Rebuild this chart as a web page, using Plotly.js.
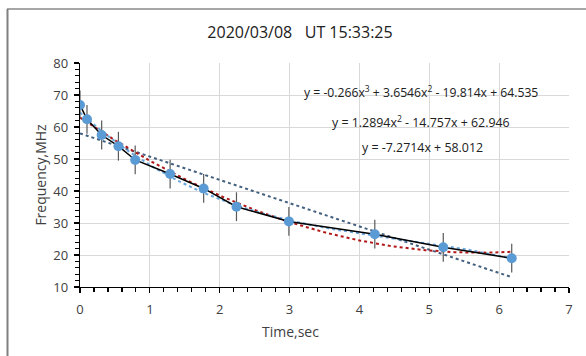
<!DOCTYPE html>
<html><head><meta charset="utf-8">
<script src="https://cdn.plot.ly/plotly-3.0.1.min.js"></script>
<style>html,body{margin:0;padding:0;background:#fff}#chart{width:586px;height:356px}</style>
</head><body><div id="chart"></div>
<script>
// Data
const timeSec = [0, 0.1, 0.31, 0.55, 0.79, 1.29, 1.77, 2.24, 2.99, 4.22, 5.2, 6.18];
const freqMHz = [66.9, 62.4, 57.5, 54.0, 49.7, 45.3, 40.8, 35.1, 30.5, 26.5, 22.4, 19.0];
const freqErr = [4.5, 4.5, 4.5, 4.5, 4.5, 4.5, 4.5, 4.5, 4.5, 4.5, 4.5, 4.5];
// Trendline coefficients as printed on the chart (highest power first)
const cubicCoef = [-0.266, 3.6546, -19.814, 64.535];
const quadCoef = [1.2894, -14.757, 62.946];
const linCoef = [-7.2714, 58.012];
const eqLabels = [
  "y = -0.266x<sup>3</sup> + 3.6546x<sup>2</sup> - 19.814x + 64.535",
  "y = 1.2894x<sup>2</sup> - 14.757x + 62.946",
  "y = -7.2714x + 58.012"
];
const titleText = "2020/03/08   UT 15:33:25";
const xTitle = "Time,sec";
const yTitle = "Frequency,MHz";

function poly(c, x){ return c.reduce((a,k)=>a*x+k, 0); }
const xs = [];
const n = 120, xmax = timeSec[timeSec.length-1];
for (let i=0;i<=n;i++) xs.push(xmax*i/n);

const FONT = "Open Sans, Liberation Sans, sans-serif";
const traces = [
  {x: xs, y: xs.map(x=>poly(linCoef,x)), mode:'lines', line:{color:'#44607f', width:2, dash:'dot'}, hoverinfo:'skip'},
  {x: xs, y: xs.map(x=>poly(quadCoef,x)), mode:'lines', line:{color:'#b01818', width:2, dash:'dot'}, hoverinfo:'skip'},
  {x: xs, y: xs.map(x=>poly(cubicCoef,x)), mode:'lines', line:{color:'#6aa6dc', width:2, dash:'dot'}, hoverinfo:'skip'},
  {x: timeSec, y: freqMHz, mode:'lines+markers',
   line:{color:'#000', width:1.5},
   marker:{color:'#5b9bd5', size:10},
   error_y:{type:'data', array:freqErr, visible:true, color:'#595959', thickness:1.2, width:0}}
];

const px = v => (v-80)/489;      // pixel x -> paper x
const py = v => (287-v)/224;     // pixel y -> paper y
const layout = {
  width:586, height:356,
  margin:{l:80, r:17, t:63, b:69},
  paper_bgcolor:'#fff', plot_bgcolor:'#fff',
  showlegend:false,
  font:{family:FONT, size:12, color:'#404040'},
  title:{text:titleText, font:{family:FONT, size:16, color:'#202020'}, x:300/586, xanchor:'center', y:1-32/356, yanchor:'middle'},
  xaxis:{range:[0,7], dtick:1, tick0:0, showgrid:true, gridcolor:'#d9d9d9', gridwidth:1,
    zeroline:false, showline:true, linecolor:'#000', linewidth:1.2,
    ticks:'outside', ticklen:5, tickcolor:'#000', tickwidth:1.2, ticklabelstandoff:5,
    minor:{dtick:0.2, ticks:'outside', ticklen:4, tickcolor:'#000', showgrid:false},
    tickfont:{size:13, color:'#404040'}},
  yaxis:{range:[10,80], dtick:10, tick0:10, showgrid:true, gridcolor:'#d9d9d9', gridwidth:1,
    zeroline:false, showline:true, linecolor:'#000', linewidth:1.2,
    ticks:'outside', ticklen:5, tickcolor:'#000', tickwidth:1.2, ticklabelstandoff:3,
    minor:{dtick:2, ticks:'outside', ticklen:4, tickcolor:'#000', showgrid:false},
    tickfont:{size:13, color:'#404040'},
    title:{text:yTitle, font:{size:14, color:'#404040'}, standoff:3}},
  annotations:[
    {xref:'paper', yref:'paper', x:px(290), y:py(331), xanchor:'center', yanchor:'middle', text:xTitle, showarrow:false, font:{size:14, color:'#404040'}},
    {xref:'paper', yref:'paper', x:px(540), y:py(92), xanchor:'right', yanchor:'middle', text:eqLabels[0], showarrow:false, font:{size:12.2, color:'#202020'}},
    {xref:'paper', yref:'paper', x:px(421), y:py(122), xanchor:'center', yanchor:'middle', text:eqLabels[1], showarrow:false, font:{size:12.4, color:'#202020'}},
    {xref:'paper', yref:'paper', x:px(422), y:py(147), xanchor:'center', yanchor:'middle', text:eqLabels[2], showarrow:false, font:{size:12.4, color:'#202020'}}
  ],
  shapes:[
    {type:'line', xref:'paper', yref:'paper', x0:px(7), x1:px(590), y0:py(9), y1:py(9), line:{color:'#a6a6a6', width:2}, layer:'below'},
    {type:'line', xref:'paper', yref:'paper', x0:px(7.5), x1:px(7.5), y0:py(9), y1:py(360), line:{color:'#808080', width:2}, layer:'below'}
  ]
};
Plotly.newPlot('chart', traces, layout, {displayModeBar:false, staticPlot:true});
</script></body></html>
